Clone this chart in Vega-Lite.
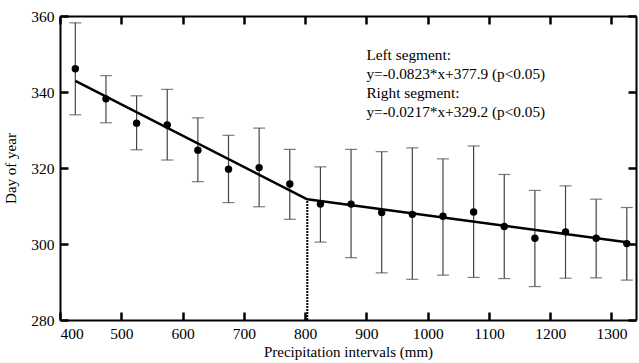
{
  "$schema": "https://vega.github.io/schema/vega-lite/v6.json",
  "width": 576,
  "height": 304,
  "autosize": "none",
  "padding": {"left": 60, "top": 16, "right": 3, "bottom": 43},
  "background": "white",
  "config": {
    "view": {"stroke": null},
    "font": "Liberation Serif",
    "axis": {
      "labelFont": "Liberation Serif",
      "titleFont": "Liberation Serif",
      "labelFontSize": 15.5,
      "titleFontSize": 15,
      "titleFontWeight": "normal",
      "labelColor": "black",
      "titleColor": "black",
      "domainColor": "black",
      "domainWidth": 2,
      "grid": false
    }
  },
  "datasets": {
    "pts": [
      {"x": 425, "mean": 346.1, "lo": 334.0, "hi": 358.2},
      {"x": 475, "mean": 338.2, "lo": 331.9, "hi": 344.3},
      {"x": 525, "mean": 331.8, "lo": 324.8, "hi": 339.0},
      {"x": 575, "mean": 331.3, "lo": 322.1, "hi": 340.7},
      {"x": 625, "mean": 324.7, "lo": 316.4, "hi": 333.2},
      {"x": 675, "mean": 319.7, "lo": 310.9, "hi": 328.6},
      {"x": 725, "mean": 320.1, "lo": 309.8, "hi": 330.5},
      {"x": 775, "mean": 315.8, "lo": 306.5, "hi": 324.9},
      {"x": 825, "mean": 310.5, "lo": 300.5, "hi": 320.3},
      {"x": 875, "mean": 310.5, "lo": 296.4, "hi": 324.9},
      {"x": 925, "mean": 308.3, "lo": 292.4, "hi": 324.3},
      {"x": 975, "mean": 307.8, "lo": 290.7, "hi": 325.3},
      {"x": 1025, "mean": 307.3, "lo": 291.8, "hi": 322.4},
      {"x": 1075, "mean": 308.4, "lo": 291.2, "hi": 325.8},
      {"x": 1125, "mean": 304.6, "lo": 290.9, "hi": 318.3},
      {"x": 1175, "mean": 301.5, "lo": 288.8, "hi": 314.1},
      {"x": 1225, "mean": 303.2, "lo": 291.0, "hi": 315.3},
      {"x": 1275, "mean": 301.5, "lo": 291.1, "hi": 311.8},
      {"x": 1325, "mean": 300.1, "lo": 290.5, "hi": 309.6}
    ],
    "fit": [
      {"x": 425, "y": 342.9, "seg": "left"},
      {"x": 803.6, "y": 311.76, "seg": "left"},
      {"x": 803.6, "y": 311.76, "seg": "right"},
      {"x": 1325, "y": 300.45, "seg": "right"}
    ],
    "brk": [{"x": 803.6, "y0": 280, "y1": 311.76}],
    "notes": [
      {"x": 900, "y": 349.7, "t": "Left segment:"},
      {"x": 900, "y": 344.7, "t": "y=-0.0823*x+377.9 (p<0.05)"},
      {"x": 900, "y": 339.8, "t": "Right segment:"},
      {"x": 900, "y": 334.8, "t": "y=-0.0217*x+329.2 (p<0.05)"}
    ]
  },
  "layer": [
    {
      "data": {"name": "pts"},
      "mark": {"type": "rule", "color": "#444444", "strokeWidth": 1.2},
      "encoding": {
        "x": {"field": "x", "type": "quantitative", "scale": {"domain": [400, 1340], "nice": false, "zero": false},
              "axis": {"title": "Precipitation intervals (mm)", "zindex": 1, "ticks": true, "tickColor": "black", "tickWidth": 2.5, "tickSize": -8, "values": [400,500,600,700,800,900,1000,1100,1200,1300], "format": "d", "labelPadding": 14, "titlePadding": 3}},
        "y": {"field": "lo", "type": "quantitative", "scale": {"domain": [280, 360], "nice": false, "zero": false},
              "axis": {"title": "Day of year", "zindex": 1, "ticks": true, "tickColor": "black", "tickWidth": 2.5, "tickSize": -8, "values": [280,300,320,340,360], "labelPadding": 14, "titlePadding": 12}},
        "y2": {"field": "hi"}
      }
    },
    {
      "data": {"name": "pts"},
      "mark": {"type": "tick", "orient": "horizontal", "color": "#444444", "size": 12, "thickness": 1.2},
      "encoding": {
        "x": {"field": "x", "type": "quantitative", "axis": null},
        "y": {"field": "lo", "type": "quantitative", "axis": null}
      }
    },
    {
      "data": {"name": "pts"},
      "mark": {"type": "tick", "orient": "horizontal", "color": "#444444", "size": 12, "thickness": 1.2},
      "encoding": {
        "x": {"field": "x", "type": "quantitative", "axis": null},
        "y": {"field": "hi", "type": "quantitative", "axis": null}
      }
    },
    {
      "data": {"name": "brk"},
      "mark": {"type": "rule", "color": "black", "strokeWidth": 2, "strokeDash": [2, 1]},
      "encoding": {
        "x": {"field": "x", "type": "quantitative", "axis": null},
        "y": {"field": "y0", "type": "quantitative", "axis": null},
        "y2": {"field": "y1"}
      }
    },
    {
      "data": {"name": "fit"},
      "mark": {"type": "line", "color": "black", "strokeWidth": 2.5},
      "encoding": {
        "x": {"field": "x", "type": "quantitative", "axis": null},
        "y": {"field": "y", "type": "quantitative", "axis": null},
        "detail": {"field": "seg"}
      }
    },
    {
      "data": {"name": "pts"},
      "mark": {"type": "point", "filled": true, "color": "black", "opacity": 1, "size": 55},
      "encoding": {
        "x": {"field": "x", "type": "quantitative", "axis": null},
        "y": {"field": "mean", "type": "quantitative", "axis": null}
      }
    },
    {
      "data": {"name": "notes"},
      "mark": {"type": "text", "align": "left", "baseline": "middle", "font": "Liberation Serif", "fontSize": 15.3, "color": "black"},
      "encoding": {
        "x": {"field": "x", "type": "quantitative", "axis": null},
        "y": {"field": "y", "type": "quantitative", "axis": null},
        "text": {"field": "t"}
      }
    },
    {
      "data": {"name": "brk"},
      "mark": {"type": "point", "opacity": 0},
      "encoding": {
        "x": {"field": "x", "type": "quantitative", "axis": {"orient": "top", "zindex": 1, "ticks": true, "labels": false, "title": null, "tickColor": "black", "tickWidth": 2.5, "tickSize": -8, "values": [400,500,600,700,800,900,1000,1100,1200,1300]}},
        "y": {"field": "y1", "type": "quantitative", "axis": {"orient": "right", "zindex": 1, "ticks": true, "labels": false, "title": null, "tickColor": "black", "tickWidth": 2.5, "tickSize": -8, "values": [280,300,320,340,360]}}
      }
    }
  ],
  "resolve": {"axis": {"x": "independent", "y": "independent"}}
}
